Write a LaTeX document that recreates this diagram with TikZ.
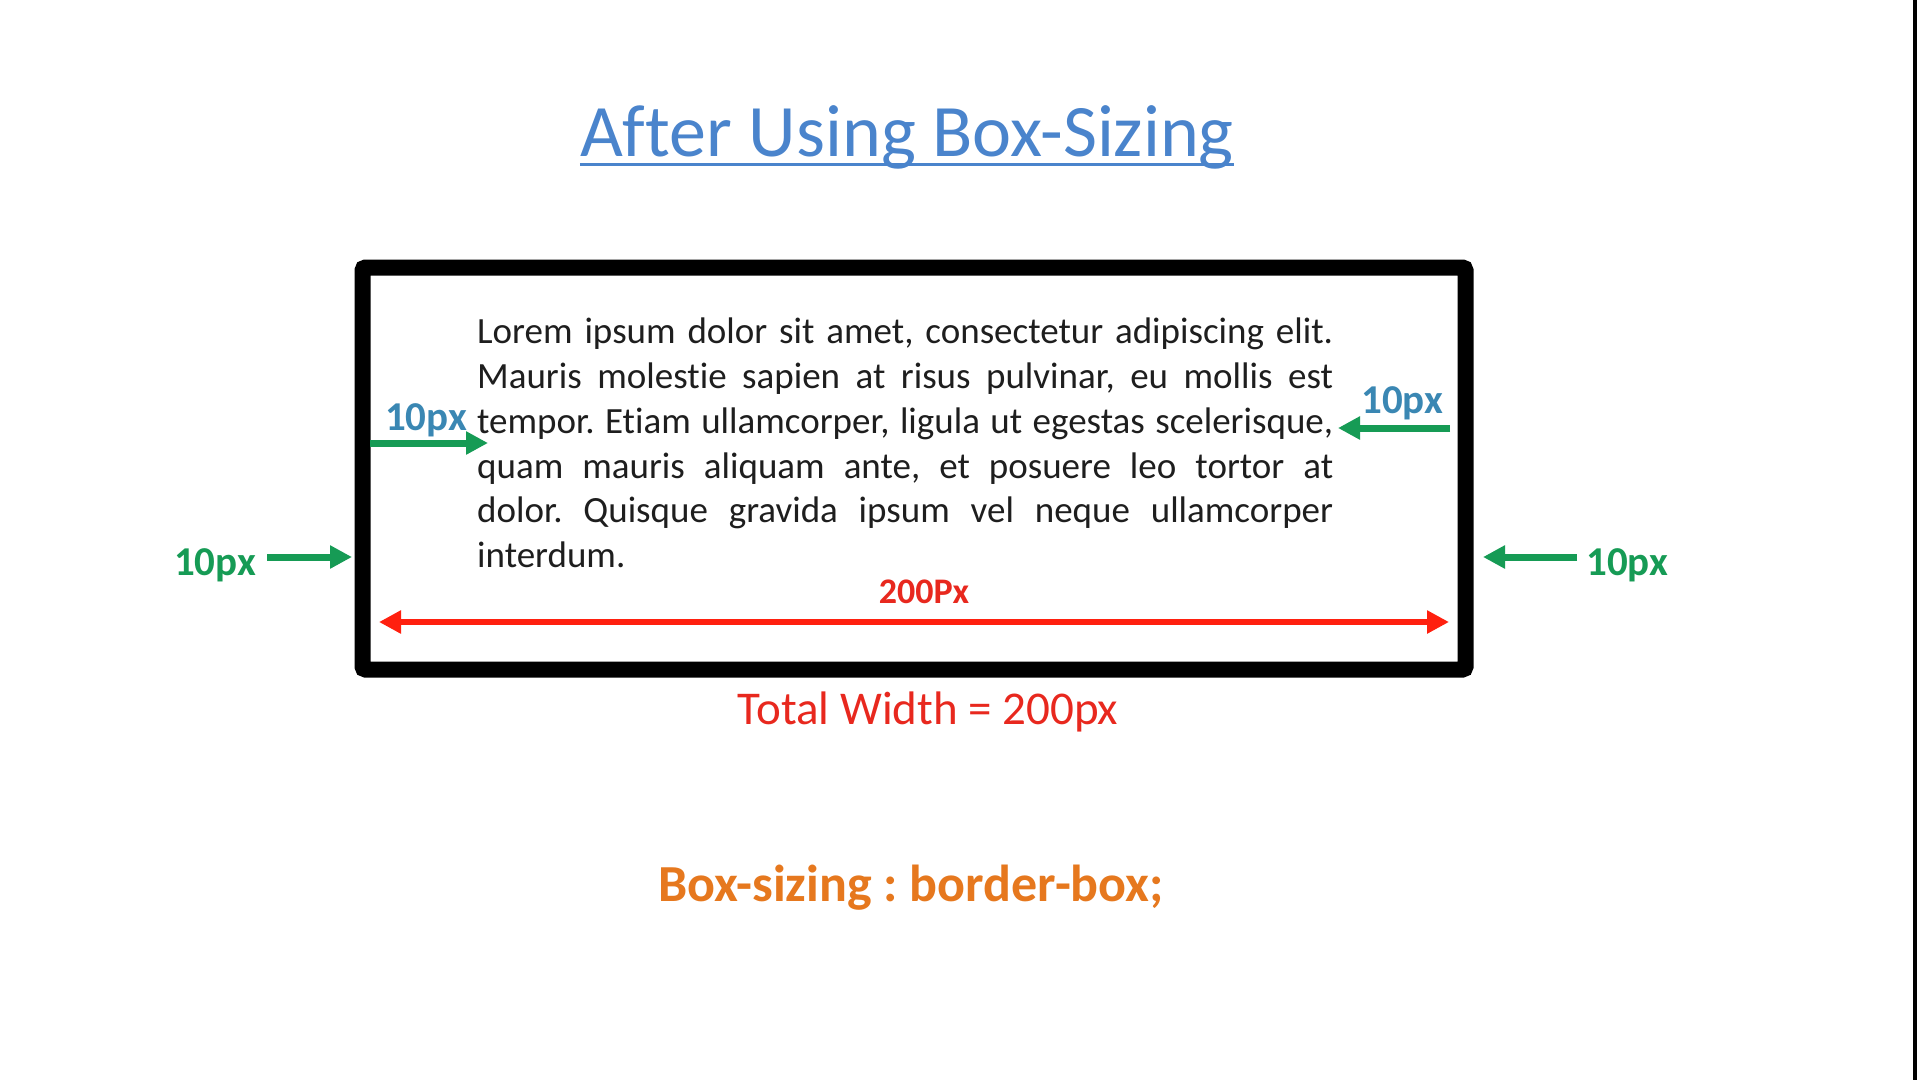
\documentclass[tikz,border=0pt]{standalone}
\usepackage{fontspec}
\setmainfont{Carlito}[Ligatures=NoCommon]
\usetikzlibrary{arrows.meta,calc}
\frenchspacing

\definecolor{titleblue}{HTML}{4A84CC}
\definecolor{padblue}{HTML}{3A87B3}
\definecolor{bordergreen}{HTML}{169B55}
\definecolor{widthred}{HTML}{FF200F}
\definecolor{labelred}{HTML}{E8281E}
\definecolor{codeorange}{HTML}{E6781E}
\definecolor{bodytext}{HTML}{1E1E1E}

\tikzset{
  para/.style={anchor=base west, inner sep=0pt, text=bodytext,
               font=\fontsize{37}{45}\selectfont},
  pxlabel/.style={anchor=base west, inner sep=0pt,
               font=\fontsize{41}{48}\selectfont\bfseries},
  greenarrow/.style={draw=bordergreen, line width=7pt,
               -{Triangle[length=22pt,width=22pt]}},
  redarrow/.style={draw=widthred, line width=6pt,
               {Triangle[length=22pt,width=22pt]}-{Triangle[length=22pt,width=22pt]}},
}

\begin{document}
\begin{tikzpicture}[x=1pt,y=-1pt]
  \useasboundingbox (0,0) rectangle (1917,1080);
  \fill[white] (0,0) rectangle (1917,1080);
  \fill[black] (1913,0) rectangle (1917,1080);

  % heading with its underline
  \node[anchor=base, inner sep=0pt, text=titleblue,
        font=\fontsize{74}{80}\selectfont] (title) at (907,156) {After Using Box-Sizing};
  \draw[titleblue, line width=3pt]
    ($(title.base west)+(0,8)$) -- ($(title.base east)+(0,8)$);

  % the bordered box
  \node[draw=black, line width=16pt, rounded corners=3pt, inner sep=0pt,
        minimum width=1103pt, minimum height=402pt] (box) at (914,468.5) {};

  % justified content
  \node[para] (p1) at (477,343) {\makebox[856pt][s]{Lorem ipsum dolor sit amet, consectetur adipiscing elit.}};
  \node[para] (p2) at (477,388) {\makebox[856pt][s]{Mauris molestie sapien at risus pulvinar, eu mollis est}};
  \node[para] (p3) at (477,433) {\makebox[856pt][s]{tempor. Etiam ullamcorper, ligula ut egestas scelerisque,}};
  \node[para] (p4) at (477,478) {\makebox[856pt][s]{quam mauris aliquam ante, et posuere leo tortor at}};
  \node[para] (p5) at (477,522) {\makebox[856pt][s]{dolor. Quisque gravida ipsum vel neque ullamcorper}};
  \node[para] (p6) at (477,567) {interdum.};

  % padding labels and arrows
  \node[pxlabel, text=padblue] (padL) at (385,430) {10px};
  \node[pxlabel, text=padblue] (padR) at (1361,413) {10px};
  \coordinate (padLa) at (370,443);
  \coordinate (padLb) at (488,443);
  \coordinate (padRa) at (1450,428);
  \coordinate (padRb) at (1338,428);
  \draw[greenarrow] (padLa) -- (padLb);
  \draw[greenarrow] (padRa) -- (padRb);

  % border labels and arrows
  \node[pxlabel, text=bordergreen] (bordL) at (174,575) {10px};
  \node[pxlabel, text=bordergreen] (bordR) at (1586,575) {10px};
  \coordinate (bordLa) at (267,557);
  \coordinate (bordLb) at (352,557);
  \coordinate (bordRa) at (1577,557);
  \coordinate (bordRb) at (1483,557);
  \draw[greenarrow] (bordLa) -- (bordLb);
  \draw[greenarrow] (bordRa) -- (bordRb);

  % width measure
  \node[anchor=base, inner sep=0pt, text=labelred,
        font=\fontsize{36}{42}\selectfont\bfseries] (wlabel) at (924,603) {200Px};
  \coordinate (wa) at (379,622);
  \coordinate (wb) at (1449,622);
  \draw[redarrow] (wa) -- (wb);

  \node[anchor=base, inner sep=0pt, text=labelred,
        font=\fontsize{47}{54}\selectfont] (total) at (928,724) {Total Width = 200px};

  \node[anchor=base, inner sep=0pt, text=codeorange,
        font=\fontsize{52}{60}\selectfont\bfseries] (rule) at (911,901) {Box-sizing : border-box;};
\end{tikzpicture}
\end{document}
